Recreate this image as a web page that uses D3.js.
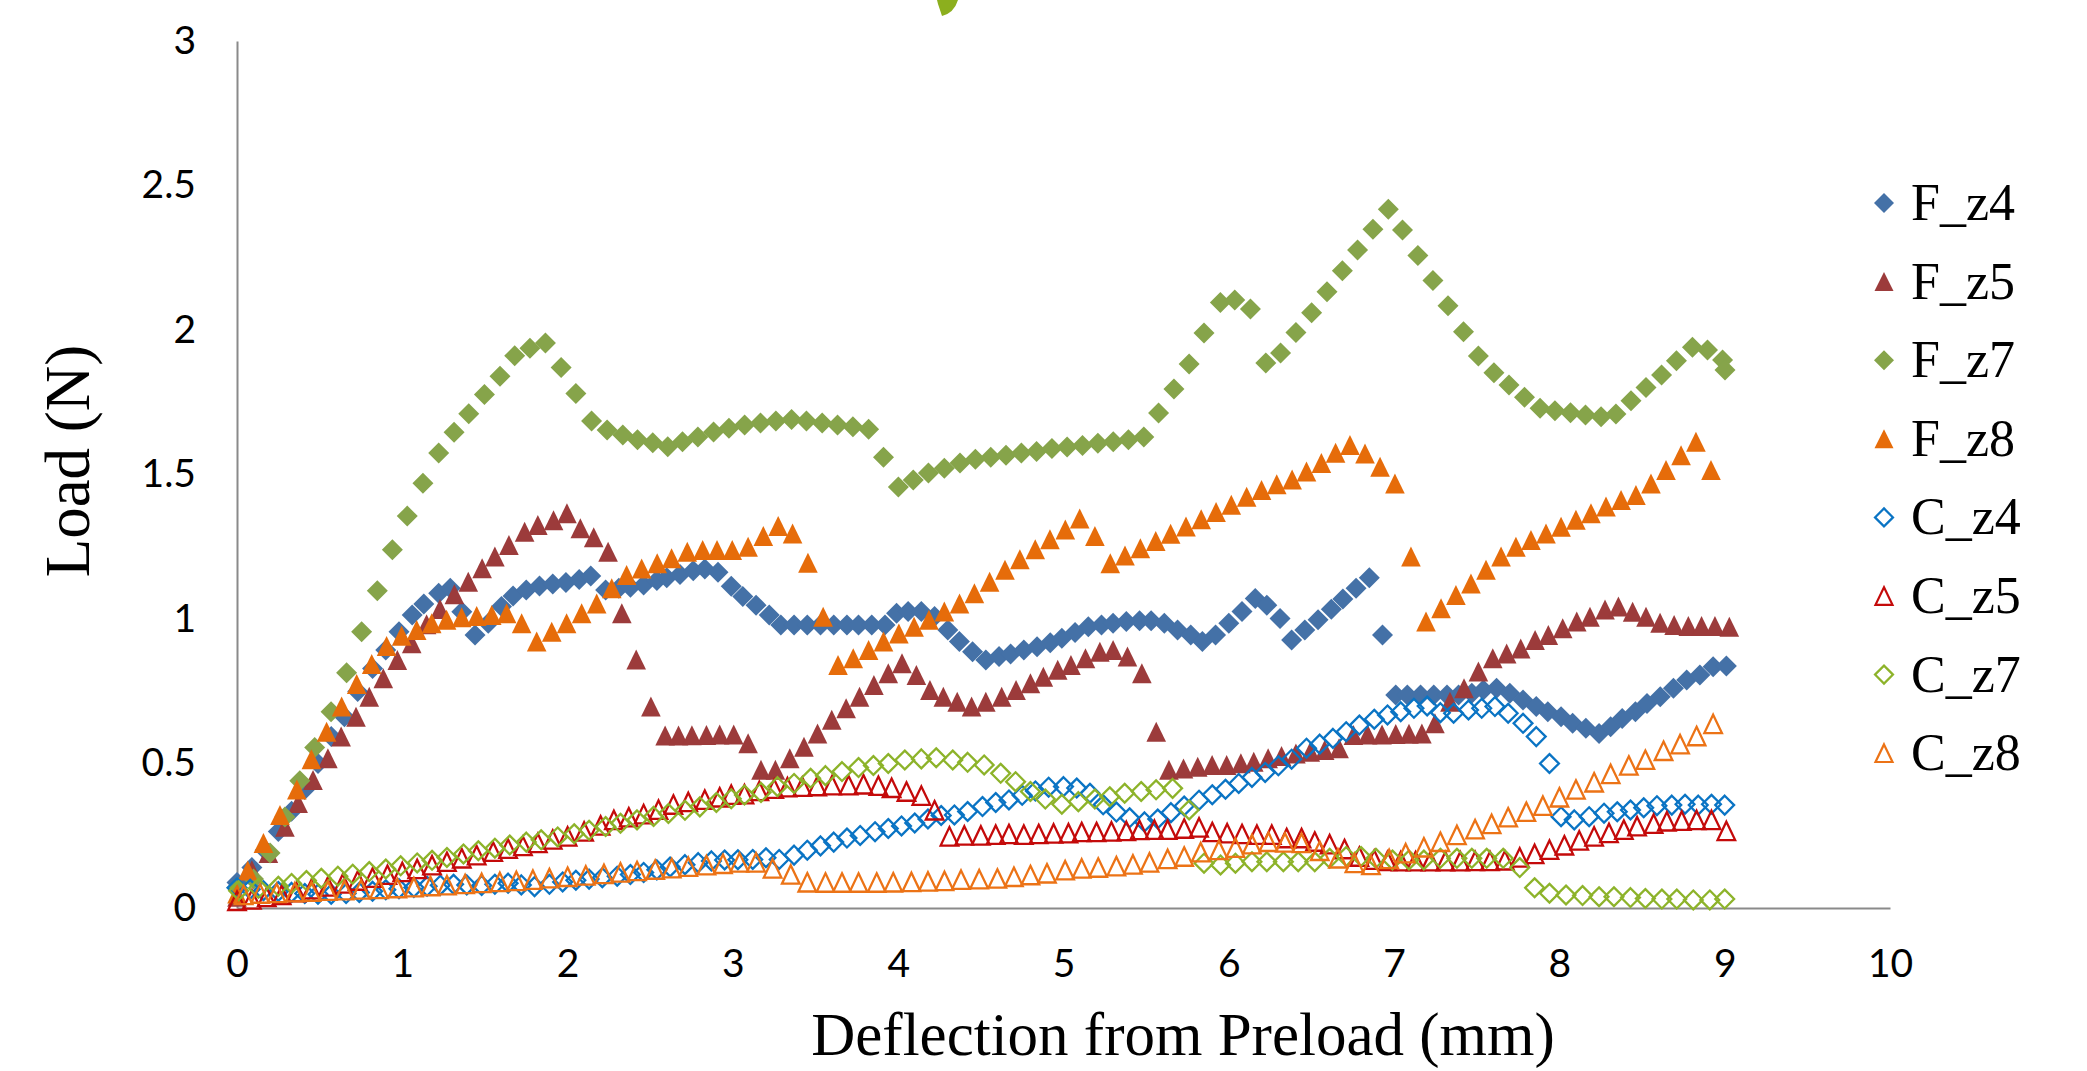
<!DOCTYPE html>
<html><head><meta charset="utf-8">
<script src="https://cdn.jsdelivr.net/npm/d3@7"></script>
<style>
html,body{margin:0;padding:0;background:#fff;}
svg{display:block;}
</style></head><body>
<svg id="chart" width="2087" height="1071"></svg>
<script>
// ---------- data ----------
const xTicks = [0,1,2,3,4,5,6,7,8,9,10];
const yTicks = [0,0.5,1,1.5,2,2.5,3];
const xTitle = "Deflection from Preload (mm)";
const yTitle = "Load (N)";
const seriesNames = ["F_z4","F_z5","F_z7","F_z8","C_z4","C_z5","C_z7","C_z8"];

const F_z4 = [[0.00,0.088],[0.09,0.14],[0.17,0.20],[0.25,0.265],[0.33,0.335],[0.41,0.41],[0.49,0.50],[0.57,0.593],[0.65,0.662],[0.73,0.749],[0.82,0.829],[0.90,0.893],[0.98,0.956],[1.06,1.014],[1.13,1.052],[1.22,1.089],[1.29,1.106],[1.36,1.025],[1.44,0.945],[1.52,0.985],[1.60,1.043],[1.67,1.08],[1.75,1.10],[1.83,1.114],[1.91,1.121],[1.99,1.126],[2.07,1.137],[2.14,1.149],[2.23,1.10],[2.31,1.106],[2.38,1.11],[2.46,1.118],[2.54,1.133],[2.60,1.143],[2.68,1.154],[2.76,1.167],[2.83,1.173],[2.91,1.162],[2.99,1.113],[3.06,1.078],[3.14,1.048],[3.22,1.014],[3.29,0.979],[3.37,0.979],[3.45,0.979],[3.53,0.979],[3.61,0.979],[3.69,0.979],[3.76,0.979],[3.84,0.979],[3.92,0.979],[3.99,1.02],[4.06,1.026],[4.14,1.026],[4.22,1.009],[4.30,0.962],[4.37,0.922],[4.45,0.887],[4.53,0.858],[4.61,0.87],[4.68,0.879],[4.76,0.893],[4.84,0.904],[4.92,0.918],[4.99,0.933],[5.07,0.953],[5.15,0.973],[5.23,0.979],[5.30,0.985],[5.38,0.991],[5.46,0.994],[5.53,0.994],[5.61,0.985],[5.69,0.962],[5.77,0.945],[5.84,0.922],[5.92,0.945],[6.00,0.985],[6.08,1.026],[6.16,1.071],[6.23,1.048],[6.31,1.002],[6.38,0.927],[6.46,0.962],[6.54,0.997],[6.62,1.034],[6.69,1.069],[6.77,1.106],[6.85,1.143],[6.93,0.945],[7.01,0.737],[7.08,0.737],[7.16,0.737],[7.24,0.737],[7.32,0.737],[7.39,0.737],[7.47,0.743],[7.54,0.754],[7.62,0.76],[7.70,0.743],[7.78,0.72],[7.86,0.697],[7.93,0.679],[8.01,0.662],[8.08,0.639],[8.16,0.622],[8.24,0.604],[8.31,0.627],[8.38,0.656],[8.46,0.679],[8.53,0.708],[8.61,0.731],[8.69,0.76],[8.77,0.789],[8.85,0.806],[8.93,0.835],[9.01,0.837]];

const F_z5 = [[0.00,0.039],[0.09,0.131],[0.19,0.19],[0.29,0.281],[0.37,0.363],[0.46,0.443],[0.55,0.518],[0.63,0.593],[0.72,0.662],[0.80,0.731],[0.885,0.795],[0.97,0.858],[1.057,0.916],[1.147,0.982],[1.228,1.035],[1.315,1.086],[1.399,1.129],[1.483,1.176],[1.56,1.216],[1.645,1.256],[1.74,1.302],[1.82,1.325],[1.915,1.342],[1.996,1.366],[2.077,1.314],[2.158,1.283],[2.245,1.233],[2.328,1.02],[2.415,0.86],[2.504,0.697],[2.59,0.597],[2.671,0.597],[2.752,0.598],[2.84,0.599],[2.92,0.60],[3.005,0.60],[3.092,0.57],[3.17,0.478],[3.257,0.478],[3.344,0.518],[3.43,0.558],[3.512,0.604],[3.598,0.651],[3.685,0.691],[3.766,0.731],[3.853,0.772],[3.94,0.812],[4.023,0.847],[4.11,0.806],[4.192,0.754],[4.273,0.731],[4.357,0.714],[4.444,0.697],[4.53,0.714],[4.626,0.731],[4.713,0.754],[4.80,0.778],[4.878,0.80],[4.965,0.824],[5.045,0.841],[5.133,0.864],[5.22,0.887],[5.30,0.893],[5.387,0.87],[5.474,0.812],[5.561,0.61],[5.638,0.478],[5.726,0.483],[5.812,0.489],[5.899,0.495],[5.987,0.495],[6.073,0.501],[6.151,0.506],[6.238,0.518],[6.319,0.526],[6.406,0.535],[6.493,0.541],[6.58,0.547],[6.667,0.553],[6.754,0.599],[6.84,0.60],[6.927,0.60],[7.01,0.602],[7.09,0.603],[7.168,0.604],[7.247,0.639],[7.338,0.714],[7.423,0.76],[7.51,0.818],[7.597,0.864],[7.681,0.881],[7.766,0.898],[7.853,0.927],[7.933,0.945],[8.02,0.968],[8.105,0.991],[8.185,1.008],[8.276,1.033],[8.357,1.043],[8.443,1.025],[8.524,1.008],[8.609,0.987],[8.694,0.979],[8.78,0.976],[8.86,0.976],[8.941,0.976],[9.028,0.973]];

const F_z7 = [[0.00,0.07],[0.10,0.10],[0.20,0.19],[0.29,0.315],[0.38,0.44],[0.47,0.555],[0.569,0.679],[0.663,0.814],[0.754,0.956],[0.849,1.098],[0.94,1.24],[1.03,1.356],[1.125,1.47],[1.22,1.574],[1.313,1.646],[1.402,1.71],[1.497,1.777],[1.591,1.84],[1.68,1.911],[1.772,1.937],[1.866,1.955],[1.961,1.87],[2.05,1.78],[2.145,1.685],[2.239,1.654],[2.334,1.637],[2.423,1.62],[2.515,1.61],[2.606,1.596],[2.695,1.613],[2.788,1.63],[2.883,1.647],[2.976,1.66],[3.071,1.671],[3.167,1.678],[3.26,1.685],[3.355,1.69],[3.445,1.685],[3.54,1.678],[3.633,1.671],[3.726,1.665],[3.821,1.657],[3.911,1.56],[4.001,1.457],[4.091,1.481],[4.183,1.505],[4.279,1.522],[4.374,1.54],[4.467,1.553],[4.56,1.56],[4.652,1.567],[4.745,1.574],[4.837,1.58],[4.93,1.59],[5.022,1.595],[5.115,1.60],[5.208,1.608],[5.301,1.613],[5.393,1.62],[5.486,1.63],[5.575,1.713],[5.668,1.796],[5.76,1.882],[5.85,1.99],[5.949,2.095],[6.036,2.104],[6.131,2.073],[6.224,1.886],[6.313,1.92],[6.406,1.991],[6.501,2.06],[6.594,2.132],[6.687,2.205],[6.779,2.277],[6.872,2.349],[6.965,2.418],[7.051,2.346],[7.144,2.258],[7.235,2.171],[7.326,2.084],[7.42,1.994],[7.51,1.91],[7.604,1.852],[7.695,1.81],[7.789,1.767],[7.883,1.729],[7.973,1.721],[8.067,1.714],[8.158,1.706],[8.252,1.70],[8.342,1.709],[8.433,1.755],[8.524,1.801],[8.618,1.844],[8.708,1.894],[8.805,1.94],[8.896,1.931],[8.987,1.896],[9.002,1.862]];

const F_z8 = [[0.00,0.05],[0.065,0.13],[0.16,0.225],[0.26,0.322],[0.362,0.41],[0.45,0.515],[0.542,0.61],[0.633,0.697],[0.724,0.775],[0.815,0.844],[0.905,0.907],[0.996,0.942],[1.087,0.962],[1.178,0.985],[1.268,0.997],[1.359,1.006],[1.45,1.01],[1.541,1.014],[1.631,1.02],[1.722,0.985],[1.813,0.922],[1.904,0.956],[1.994,0.985],[2.085,1.02],[2.176,1.054],[2.267,1.106],[2.357,1.152],[2.448,1.175],[2.542,1.193],[2.629,1.21],[2.724,1.233],[2.817,1.239],[2.904,1.239],[2.996,1.239],[3.092,1.25],[3.184,1.287],[3.274,1.322],[3.361,1.296],[3.454,1.195],[3.546,1.008],[3.636,0.841],[3.728,0.864],[3.821,0.893],[3.911,0.922],[4.004,0.95],[4.096,0.973],[4.186,0.997],[4.279,1.026],[4.371,1.054],[4.461,1.089],[4.553,1.129],[4.646,1.17],[4.736,1.207],[4.829,1.241],[4.918,1.276],[5.011,1.31],[5.098,1.348],[5.19,1.287],[5.283,1.193],[5.372,1.22],[5.465,1.245],[5.558,1.27],[5.648,1.295],[5.741,1.32],[5.833,1.345],[5.923,1.37],[6.015,1.395],[6.108,1.423],[6.198,1.446],[6.29,1.466],[6.383,1.483],[6.47,1.51],[6.56,1.54],[6.646,1.575],[6.733,1.602],[6.824,1.573],[6.915,1.527],[7.005,1.469],[7.102,1.216],[7.193,0.991],[7.284,1.037],[7.374,1.083],[7.465,1.123],[7.556,1.17],[7.647,1.216],[7.737,1.25],[7.828,1.273],[7.919,1.296],[8.01,1.319],[8.10,1.343],[8.191,1.366],[8.282,1.389],[8.373,1.412],[8.463,1.429],[8.554,1.469],[8.645,1.516],[8.736,1.567],[8.826,1.613],[8.917,1.516]];

const C_z4 = [[0.00,0.07],[0.08,0.065],[0.16,0.06],[0.25,0.057],[0.33,0.054],[0.41,0.05],[0.49,0.048],[0.57,0.048],[0.66,0.05],[0.74,0.054],[0.82,0.058],[0.90,0.063],[0.98,0.067],[1.07,0.071],[1.15,0.075],[1.23,0.079],[1.31,0.082],[1.39,0.08],[1.48,0.078],[1.56,0.082],[1.64,0.086],[1.72,0.08],[1.80,0.074],[1.89,0.082],[1.97,0.09],[2.05,0.096],[2.13,0.10],[2.21,0.105],[2.30,0.11],[2.38,0.116],[2.46,0.123],[2.54,0.132],[2.62,0.142],[2.71,0.15],[2.79,0.157],[2.87,0.163],[2.95,0.166],[3.03,0.167],[3.12,0.168],[3.20,0.174],[3.28,0.168],[3.37,0.183],[3.45,0.20],[3.53,0.215],[3.61,0.228],[3.69,0.242],[3.77,0.251],[3.86,0.264],[3.94,0.275],[4.02,0.284],[4.10,0.294],[4.18,0.308],[4.26,0.32],[4.34,0.322],[4.42,0.334],[4.51,0.351],[4.59,0.365],[4.67,0.374],[4.75,0.39],[4.83,0.405],[4.91,0.418],[5.00,0.42],[5.08,0.415],[5.16,0.397],[5.24,0.357],[5.32,0.332],[5.40,0.312],[5.49,0.298],[5.57,0.308],[5.65,0.33],[5.73,0.353],[5.82,0.373],[5.90,0.392],[5.98,0.411],[6.06,0.431],[6.14,0.452],[6.22,0.469],[6.30,0.492],[6.38,0.515],[6.47,0.553],[6.55,0.567],[6.63,0.587],[6.71,0.61],[6.79,0.633],[6.88,0.653],[6.96,0.668],[7.04,0.679],[7.12,0.691],[7.20,0.699],[7.28,0.676],[7.36,0.674],[7.45,0.685],[7.53,0.691],[7.61,0.697],[7.69,0.674],[7.78,0.639],[7.86,0.593],[7.94,0.50],[8.01,0.316],[8.09,0.305],[8.18,0.316],[8.27,0.328],[8.35,0.333],[8.43,0.339],[8.51,0.347],[8.59,0.354],[8.68,0.356],[8.76,0.359],[8.84,0.356],[8.92,0.359],[9.00,0.356]];

const C_z5 = [[0.00,0.025],[0.09,0.03],[0.18,0.038],[0.27,0.045],[0.36,0.055],[0.45,0.065],[0.55,0.075],[0.64,0.085],[0.73,0.095],[0.82,0.105],[0.91,0.115],[1.00,0.125],[1.09,0.135],[1.18,0.148],[1.27,0.16],[1.36,0.172],[1.45,0.183],[1.55,0.195],[1.64,0.205],[1.73,0.215],[1.82,0.225],[1.91,0.237],[2.00,0.248],[2.10,0.265],[2.20,0.286],[2.28,0.305],[2.37,0.314],[2.46,0.325],[2.55,0.34],[2.64,0.358],[2.73,0.367],[2.83,0.375],[2.92,0.383],[2.99,0.392],[3.07,0.394],[3.16,0.405],[3.25,0.413],[3.33,0.418],[3.42,0.42],[3.51,0.422],[3.60,0.425],[3.70,0.425],[3.79,0.428],[3.88,0.423],[3.96,0.416],[4.05,0.403],[4.14,0.389],[4.22,0.338],[4.31,0.248],[4.40,0.251],[4.50,0.251],[4.59,0.254],[4.67,0.256],[4.76,0.254],[4.85,0.256],[4.94,0.258],[5.03,0.259],[5.11,0.263],[5.20,0.263],[5.29,0.265],[5.38,0.267],[5.46,0.27],[5.55,0.271],[5.63,0.271],[5.73,0.275],[5.82,0.279],[5.90,0.263],[5.99,0.259],[6.08,0.256],[6.17,0.254],[6.26,0.254],[6.35,0.242],[6.44,0.242],[6.52,0.23],[6.61,0.221],[6.70,0.204],[6.79,0.178],[6.88,0.167],[6.96,0.163],[7.04,0.162],[7.13,0.162],[7.22,0.162],[7.31,0.162],[7.40,0.162],[7.49,0.163],[7.58,0.163],[7.67,0.165],[7.76,0.175],[7.85,0.187],[7.94,0.202],[8.03,0.217],[8.12,0.234],[8.21,0.248],[8.30,0.26],[8.39,0.271],[8.47,0.283],[8.57,0.292],[8.65,0.30],[8.74,0.302],[8.83,0.305],[8.92,0.305],[9.01,0.267]];

const C_z7 = [[0.01,0.06],[0.13,0.068],[0.25,0.075],[0.33,0.085],[0.42,0.095],[0.51,0.103],[0.61,0.11],[0.70,0.117],[0.80,0.126],[0.90,0.135],[0.99,0.146],[1.09,0.156],[1.18,0.165],[1.27,0.175],[1.37,0.187],[1.46,0.198],[1.56,0.207],[1.65,0.218],[1.75,0.228],[1.84,0.236],[1.94,0.246],[2.04,0.257],[2.13,0.269],[2.23,0.282],[2.32,0.293],[2.42,0.305],[2.52,0.317],[2.61,0.327],[2.71,0.338],[2.80,0.35],[2.90,0.365],[2.99,0.378],[3.07,0.391],[3.17,0.40],[3.27,0.42],[3.37,0.431],[3.47,0.449],[3.56,0.458],[3.66,0.472],[3.76,0.486],[3.85,0.493],[3.94,0.50],[4.04,0.512],[4.14,0.516],[4.23,0.52],[4.33,0.512],[4.42,0.504],[4.52,0.495],[4.62,0.466],[4.71,0.437],[4.80,0.403],[4.89,0.377],[4.99,0.359],[5.09,0.368],[5.19,0.377],[5.28,0.385],[5.37,0.397],[5.47,0.403],[5.56,0.409],[5.66,0.414],[5.76,0.339],[5.85,0.155],[5.95,0.149],[6.04,0.155],[6.14,0.16],[6.23,0.16],[6.33,0.16],[6.42,0.16],[6.52,0.16],[6.61,0.172],[6.71,0.178],[6.80,0.178],[6.89,0.172],[6.99,0.166],[7.09,0.166],[7.18,0.166],[7.28,0.172],[7.38,0.172],[7.47,0.172],[7.56,0.172],[7.66,0.172],[7.76,0.14],[7.85,0.07],[7.94,0.051],[8.04,0.045],[8.14,0.043],[8.24,0.039],[8.33,0.039],[8.43,0.036],[8.52,0.033],[8.62,0.031],[8.71,0.031],[8.81,0.028],[8.91,0.028],[9.00,0.031]];

const C_z8 = [[0.04,0.045],[0.14,0.05],[0.24,0.052],[0.35,0.055],[0.45,0.057],[0.55,0.06],[0.65,0.062],[0.75,0.064],[0.86,0.066],[0.97,0.069],[1.07,0.072],[1.17,0.076],[1.27,0.079],[1.38,0.083],[1.48,0.087],[1.59,0.09],[1.69,0.094],[1.79,0.098],[1.89,0.103],[2.00,0.108],[2.11,0.113],[2.22,0.118],[2.32,0.123],[2.42,0.128],[2.53,0.133],[2.63,0.138],[2.73,0.143],[2.84,0.148],[2.94,0.153],[3.04,0.158],[3.14,0.158],[3.24,0.137],[3.35,0.116],[3.45,0.089],[3.56,0.088],[3.66,0.088],[3.76,0.088],[3.87,0.088],[3.97,0.089],[4.08,0.09],[4.18,0.092],[4.28,0.094],[4.38,0.098],[4.49,0.10],[4.60,0.102],[4.70,0.108],[4.80,0.114],[4.90,0.12],[5.01,0.131],[5.11,0.137],[5.21,0.14],[5.32,0.145],[5.42,0.151],[5.52,0.158],[5.63,0.17],[5.73,0.178],[5.83,0.193],[5.94,0.201],[6.04,0.209],[6.14,0.221],[6.24,0.229],[6.34,0.227],[6.44,0.225],[6.55,0.198],[6.66,0.172],[6.76,0.156],[6.86,0.149],[6.97,0.17],[7.07,0.19],[7.18,0.21],[7.28,0.229],[7.38,0.253],[7.49,0.273],[7.59,0.291],[7.69,0.314],[7.80,0.333],[7.90,0.354],[8.00,0.383],[8.10,0.41],[8.21,0.435],[8.31,0.464],[8.42,0.493],[8.52,0.513],[8.63,0.544],[8.73,0.567],[8.83,0.595],[8.93,0.637]];

// ---------- chart ----------
const svg = d3.select("#chart");
svg.append("rect").attr("width",2087).attr("height",1071).attr("fill","#fff");

const x = d3.scaleLinear().domain([0,10]).range([237,1890]);
const y = d3.scaleLinear().domain([0,3]).range([908,41]);

const tickFont = "Lato, 'Open Sans', sans-serif";
const serif = "'Liberation Serif','Times New Roman',Times,serif";

// axes
const xAxis = svg.append("g").attr("transform","translate(0,"+y(0)+")")
  .call(d3.axisBottom(x).tickValues(xTicks).tickSize(0).tickSizeOuter(0).tickPadding(41).tickFormat(d3.format("d")));
const yAxis = svg.append("g").attr("transform","translate("+x(0)+",0)")
  .call(d3.axisLeft(y).tickValues(yTicks).tickSize(0).tickSizeOuter(0).tickPadding(41).tickFormat(d3.format("~g")));
[xAxis,yAxis].forEach(a=>{
  a.select(".domain").attr("stroke","#8a8a8a").attr("stroke-width",2);
  a.selectAll("text").attr("font-family",tickFont).attr("font-size",39).attr("fill","#000");
});

// titles
svg.append("text").attr("x",1183).attr("y",1055).attr("text-anchor","middle")
  .attr("font-family",serif).attr("font-size",61).attr("fill","#000").text(xTitle);
svg.append("text").attr("transform","translate(89,461) rotate(-90)").attr("text-anchor","middle")
  .attr("font-family",serif).attr("font-size",63).attr("fill","#000").text(yTitle);

// marker shapes
const diamondPath = h => `M0,${-h}L${h},0L0,${h}L${-h},0Z`;
const trianglePath = (w,h) => `M0,${-h}L${w},${h}L${-w},${h}Z`;

const styles = [
  {data:F_z4, shape:"diamond", color:"#4471A7", filled:true},
  {data:F_z5, shape:"triangle", color:"#9C3B3B", filled:true},
  {data:F_z7, shape:"diamond", color:"#86A44A", filled:true},
  {data:F_z8, shape:"triangle", color:"#E66C0A", filled:true},
  {data:C_z4, shape:"diamond", color:"#0A74C4", filled:false},
  {data:C_z5, shape:"triangle", color:"#C40A0A", filled:false},
  {data:C_z7, shape:"diamond", color:"#8DB32A", filled:false},
  {data:C_z8, shape:"triangle", color:"#EC7316", filled:false}
];
function markerPath(s){
  if (s.shape==="diamond") return s.filled ? diamondPath(10.5) : diamondPath(9.4);
  return s.filled ? trianglePath(9.8,10) : trianglePath(8.8,9.2);
}

const plot = svg.append("g");
styles.forEach((s,i)=>{
  const g = plot.append("g").attr("class","series-"+seriesNames[i]);
  g.selectAll("path").data(s.data).join("path")
    .attr("d", markerPath(s))
    .attr("transform", d=>`translate(${x(d[0])},${y(d[1])})`)
    .attr("fill", s.filled ? s.color : "none")
    .attr("stroke", s.filled ? "none" : s.color)
    .attr("stroke-width", s.filled ? 0 : 2.3)
    .attr("stroke-linejoin","miter");
});

// legend
const legend = svg.append("g");
styles.forEach((s,i)=>{
  const cy = 203 + i*78.6;
  const sym = s.shape==="diamond" ? (s.filled?diamondPath(10):diamondPath(9)) : (s.filled?trianglePath(9.5,9.5):trianglePath(8.5,8.8));
  legend.append("path").attr("d",sym).attr("transform",`translate(1884,${cy})`)
    .attr("fill", s.filled ? s.color : "none")
    .attr("stroke", s.filled ? "none" : s.color)
    .attr("stroke-width", s.filled ? 0 : 2.2);
  legend.append("text").attr("x",1911).attr("y",cy+17)
    .attr("font-family",serif).attr("font-size",52).attr("fill","#000").text(seriesNames[i]);
});

// small green artefact clipped at the top edge of the picture
svg.append("path").attr("d","M937,0L958,0Q954,13 942,16L938,4Z").attr("fill","#8CAF1E");
</script>
</body></html>
